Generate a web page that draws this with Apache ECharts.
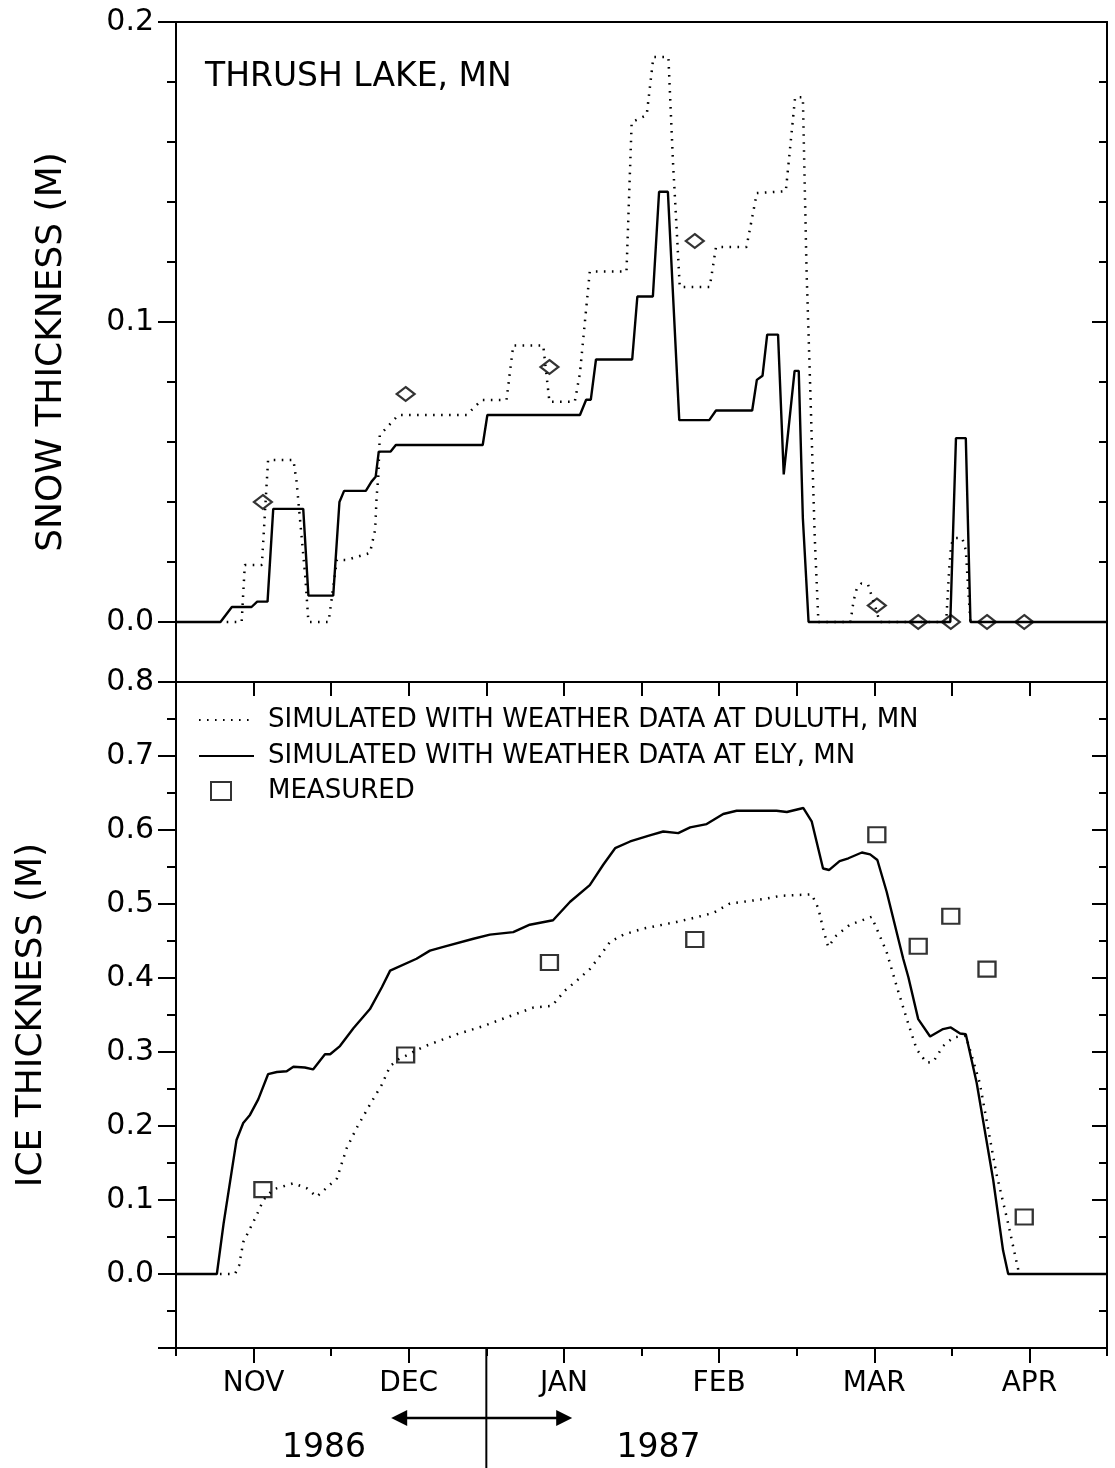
<!DOCTYPE html>
<html>
<head>
<meta charset="utf-8">
<script src="https://cdn.jsdelivr.net/npm/echarts@6/dist/echarts.min.js"></script>
<style>
  html, body { margin: 0; padding: 0; background: #fff; }
  #main { width: 1115px; height: 1468px; }
</style>
</head>
<body>
<div id="main"></div>
<script>
// x = days counted from 1 Oct 1986 (30-day months, as drawn on the axis)
var monthNames = ['NOV', 'DEC', 'JAN', 'FEB', 'MAR', 'APR'];
var monthDays = [30, 60, 90, 120, 150, 180];
var halfMonthDays = [15, 30, 45, 60, 75, 90, 105, 120, 135, 150, 165, 180, 195];

var snowTicks = [-0.02, 0, 0.02, 0.04, 0.06, 0.08, 0.1, 0.12, 0.14, 0.16, 0.18, 0.2];
var snowLabels = [0, 0.1, 0.2];
var iceTicks = [-0.1, -0.05, 0, 0.05, 0.1, 0.15, 0.2, 0.25, 0.3, 0.35, 0.4, 0.45, 0.5, 0.55, 0.6, 0.65, 0.7, 0.75, 0.8];
var iceLabels = [0, 0.1, 0.2, 0.3, 0.4, 0.5, 0.6, 0.7, 0.8];
var iceMajor = [-0.1, 0, 0.1, 0.2, 0.3, 0.4, 0.5, 0.6, 0.7, 0.8];

var yearLabels = ['1986', '1987'];
var yearLabelDays = [43.6, 108.3];
var yearSplitDay = 75;
var arrowDays = [56.6, 91.6];

var nameDuluth = 'SIMULATED WITH WEATHER DATA AT DULUTH, MN';
var nameEly = 'SIMULATED WITH WEATHER DATA AT ELY, MN';
var nameMeasured = 'MEASURED';

// snow thickness (m)
var snowEly = [[15,0],[23.6,0],[25.8,0.005],[29.6,0.005],[30.7,0.0068],[32.7,0.0068],[33.8,0.0377],[39.6,0.0377],
  [40.6,0.0088],[45.4,0.0088],[46.6,0.040],[47.5,0.0437],[51.7,0.0437],[52.8,0.0468],[53.6,0.0484],[54.2,0.0568],
  [56.5,0.0568],[57.5,0.059],[74.3,0.059],[75.2,0.069],[93.1,0.069],[94.3,0.0741],[95.2,0.0741],[96.2,0.0875],
  [103.2,0.0875],[104.2,0.1085],[107.2,0.1085],[108.4,0.1434],[110.1,0.1434],[112.3,0.0673],[118.1,0.0673],
  [119.4,0.0705],[126.4,0.0705],[127.3,0.0807],[128.4,0.0821],[129.3,0.0958],[131.4,0.0958],[132.5,0.0492],
  [134.6,0.0837],[135.4,0.0837],[136.2,0.0345],[137.3,0],[164.7,0],[165.8,0.0613],[167.7,0.0613],[168.6,0],[195,0]];

var snowDuluth = [[24.8,0],[27.7,0],[28.3,0.019],[31.6,0.019],[32.8,0.054],[37.7,0.054],[38.3,0.047],[39.2,0.030],
  [40.0,0.015],[40.6,0],[44.5,0],[46.1,0.0207],[48,0.0207],[52.5,0.023],[53.5,0.0307],[53.8,0.042],[54.1,0.048],
  [54.4,0.0623],[58.0,0.069],[71.2,0.069],[74.1,0.074],[78.9,0.074],[80.2,0.0922],[86.0,0.0922],[87.2,0.0734],
  [92.1,0.0734],[93.1,0.083],[95.0,0.1168],[102.1,0.1168],[103.1,0.1666],[106,0.169],[107.3,0.1883],[110.2,0.1883],
  [111.1,0.153],[112.4,0.1117],[118.2,0.1117],[119.4,0.125],[125.3,0.125],[127.3,0.143],[132.9,0.1436],
  [134.7,0.1749],[136.2,0.1749],[136.9,0.1175],[137.6,0.0792],[138.5,0.0282],[139.2,0],[145.4,0],[146.0,0.007],
  [146.6,0.011],[147.5,0.0128],[148.8,0.0125],[149.8,0.007],[150.5,0.0035],[151,0],[163.9,0],[164.5,0.018],
  [164.9,0.026],[165.6,0.028],[167.0,0.028],[167.7,0.024],[168.2,0.01],[168.6,0]];

// ice thickness (m)
var iceEly = [[15,0],[22.9,0],[24.2,0.068],[26.7,0.181],[28.0,0.204],[29.3,0.215],[30.9,0.236],[32.8,0.270],
  [34.5,0.273],[36.4,0.274],[37.7,0.280],[39.9,0.279],[41.5,0.2765],[43.8,0.297],[44.8,0.297],[46.7,0.308],
  [49.3,0.332],[52.5,0.358],[54.8,0.3875],[56.4,0.410],[61.5,0.426],[64.1,0.437],[66.7,0.442],[72.5,0.453],
  [75.7,0.4586],[80.2,0.462],[83.4,0.472],[87.9,0.478],[91.2,0.503],[95.0,0.5255],[97.6,0.553],[99.9,0.5754],
  [102.8,0.5845],[106.6,0.5927],[109.2,0.598],[112.1,0.5958],[114.4,0.6035],[117.6,0.608],[120.8,0.6216],
  [123.4,0.626],[131.1,0.626],[133.1,0.6243],[136.3,0.6297],[137.9,0.6117],[140.1,0.548],[141.3,0.546],
  [143.3,0.558],[145.0,0.5618],[147.6,0.5696],[149.2,0.567],[150.6,0.5595],[152.4,0.5166],[155.6,0.426],
  [156.6,0.401],[158.5,0.3444],[160.8,0.321],[163.3,0.331],[164.8,0.3332],[166.6,0.325],[167.7,0.324],
  [169.8,0.2584],[173.0,0.127],[174.9,0.032],[175.9,0],[195,0]];

var iceDuluth = [[23.5,0],[26.4,0],[27.2,0.0116],[28.0,0.043],[29.0,0.057],[30.6,0.0795],[31.9,0.1],[33.8,0.1144],
  [37.7,0.1226],[40.3,0.1158],[42.2,0.1044],[46.1,0.129],[48.0,0.170],[49.9,0.197],[52.5,0.229],[54.8,0.256],
  [56.4,0.281],[58.0,0.290],[59.6,0.2955],[62.8,0.307],[69.3,0.324],[74.4,0.335],[79.0,0.347],[84.1,0.360],
  [87.7,0.3625],[90.2,0.383],[92.5,0.3965],[95.0,0.412],[97.0,0.430],[98.9,0.4486],[101.5,0.4586],[105.3,0.4667],
  [111.8,0.4758],[115.0,0.481],[118.9,0.488],[122.1,0.5007],[128.5,0.5065],[131.8,0.511],[137.9,0.513],
  [139.2,0.494],[140.1,0.4667],[141.1,0.442],[142.7,0.4576],[145.3,0.472],[149.5,0.4826],[152.4,0.435],
  [154.3,0.3897],[156.3,0.3444],[158.2,0.3037],[160.1,0.2856],[161.4,0.2865],[163.3,0.308],[165.3,0.3196],
  [167.7,0.322],[170.4,0.258],[173.6,0.136],[175.9,0.068],[177.8,0.007],[178.0,0]];

// measurements (same sampling dates for snow and ice)
var measureDays = [31.8, 59.4, 87.2, 115.3, 150.5, 158.5, 164.8, 171.8, 179.0];
var snowMeasured = [0.040, 0.076, 0.085, 0.127, 0.0055, 0, 0, 0, 0];
var iceMeasured = [0.114, 0.296, 0.421, 0.452, 0.5935, 0.443, 0.4835, 0.412, 0.077];

function pairs(xs, ys) {
  return xs.map(function (x, i) { return [x, ys[i]]; });
}

var font = 'DejaVu Sans';
var black = '#000';
var dotted = { color: black, width: 2.5, type: [1.6, 6.4] };
var solid = { color: black, width: 2.4 };
var hollow = { color: 'rgba(255,255,255,0)', borderColor: black, borderWidth: 2.2 };

function xAxisBase(grid, pos) {
  return {
    type: 'value', gridIndex: grid, position: pos, min: 15, max: 195, interval: 15,
    axisLine: { show: true, onZero: false, lineStyle: { color: black, width: 2 } },
    axisTick: { show: false }, axisLabel: { show: false }, splitLine: { show: false }
  };
}
function yAxisBase(grid, pos, min, max, interval) {
  return {
    type: 'value', gridIndex: grid, position: pos, min: min, max: max, interval: interval,
    axisLine: { show: true, onZero: false, lineStyle: { color: black, width: 2 } },
    axisTick: { show: false }, axisLabel: { show: false }, splitLine: { show: false }
  };
}
function withTicks(axis, values, len, inside) {
  axis.axisTick = { show: true, customValues: values, length: len, inside: !!inside,
    lineStyle: { color: black, width: 2 } };
  return axis;
}

// snow panel axes
var xSnowBottom = xAxisBase(0, 'bottom');
var xSnowTop = xAxisBase(0, 'top');
var ySnowLeft = withTicks(yAxisBase(0, 'left', -0.02, 0.2, 0.02), snowTicks, 9);
ySnowLeft.axisLabel = { show: true, customValues: snowLabels, margin: 22, fontFamily: font, fontSize: 30,
  color: black, formatter: function (v) { return v.toFixed(1); } };
ySnowLeft.name = 'SNOW THICKNESS (M)';
ySnowLeft.nameLocation = 'middle';
ySnowLeft.nameGap = 106;
ySnowLeft.nameTextStyle = { fontFamily: font, fontSize: 36, color: black };
var ySnowLeftMajor = withTicks(yAxisBase(0, 'left', -0.02, 0.2, 0.02), snowLabels, 18);
var ySnowRight = withTicks(yAxisBase(0, 'right', -0.02, 0.2, 0.02), snowTicks, 8, true);
var ySnowRightMajor = withTicks(yAxisBase(0, 'right', -0.02, 0.2, 0.02), snowLabels, 15, true);

// ice panel axes
var xIceBottom = withTicks(xAxisBase(1, 'bottom'), halfMonthDays, 8);
xIceBottom.axisLabel = { show: true, customValues: monthDays, margin: 22, fontFamily: font, fontSize: 28,
  color: black, formatter: function (v) { return monthNames[monthDays.indexOf(v)]; } };
var xIceBottomMajor = withTicks(xAxisBase(1, 'bottom'), monthDays, 15);
var xIceTop = withTicks(xAxisBase(1, 'top'), halfMonthDays, 14, true);
var yIceLeft = withTicks(yAxisBase(1, 'left', -0.1, 0.8, 0.05), iceTicks, 9);
yIceLeft.axisLabel = { show: true, customValues: iceLabels, margin: 22, fontFamily: font, fontSize: 30,
  color: black, formatter: function (v) { return v.toFixed(1); } };
yIceLeft.name = 'ICE THICKNESS (M)';
yIceLeft.nameLocation = 'middle';
yIceLeft.nameGap = 126;
yIceLeft.nameTextStyle = { fontFamily: font, fontSize: 36, color: black };
var yIceLeftMajor = withTicks(yAxisBase(1, 'left', -0.1, 0.8, 0.05), iceMajor, 18);
var yIceRight = withTicks(yAxisBase(1, 'right', -0.1, 0.8, 0.05), iceTicks, 8, true);
var yIceRightMajor = withTicks(yAxisBase(1, 'right', -0.1, 0.8, 0.05), iceMajor, 15, true);

var legendText = { fontFamily: font, fontSize: 26, color: black };
var hideSymbol = { opacity: 0 };

var option = {
  backgroundColor: '#fff',
  animation: false,
  title: {
    text: 'THRUSH LAKE, MN', left: 200, top: 56,
    textStyle: { fontFamily: font, fontSize: 33, fontWeight: 'normal', color: black }
  },
  legend: [
    {
      orient: 'vertical', left: 193, top: 702, itemGap: 10, itemWidth: 55, itemHeight: 16,
      data: [{ name: nameDuluth, itemStyle: hideSymbol }, { name: nameEly, itemStyle: hideSymbol }],
      textStyle: Object.assign({ padding: [0, 0, 0, 9] }, legendText)
    },
    {
      orient: 'vertical', left: 205, top: 773, itemWidth: 20, itemHeight: 18,
      data: [nameMeasured],
      textStyle: Object.assign({ padding: [0, 0, 0, 32] }, legendText)
    }
  ],
  grid: [
    { left: 176, right: 8, top: 22, height: 660 },
    { left: 176, right: 8, top: 682, height: 666 }
  ],
  xAxis: [xSnowBottom, xSnowTop, xIceBottom, xIceBottomMajor, xIceTop],
  yAxis: [ySnowLeft, ySnowLeftMajor, ySnowRight, ySnowRightMajor, yIceLeft, yIceLeftMajor, yIceRight, yIceRightMajor],
  series: [
    { name: nameDuluth, type: 'line', xAxisIndex: 2, yAxisIndex: 4, data: iceDuluth, symbol: 'none',
      lineStyle: dotted, itemStyle: { color: black } },
    { name: nameEly, type: 'line', xAxisIndex: 2, yAxisIndex: 4, data: iceEly, symbol: 'none',
      lineStyle: solid, itemStyle: { color: black } },
    { name: nameMeasured, type: 'scatter', xAxisIndex: 2, yAxisIndex: 4, data: pairs(measureDays, iceMeasured),
      symbol: 'rect', symbolSize: [17, 15], itemStyle: hollow },
    { name: nameDuluth, type: 'line', xAxisIndex: 0, yAxisIndex: 0, data: snowDuluth, symbol: 'none',
      lineStyle: dotted, itemStyle: { color: black } },
    { name: nameEly, type: 'line', xAxisIndex: 0, yAxisIndex: 0, data: snowEly, symbol: 'none',
      lineStyle: solid, itemStyle: { color: black } },
    { name: nameMeasured, type: 'scatter', xAxisIndex: 0, yAxisIndex: 0, data: pairs(measureDays, snowMeasured),
      symbol: 'diamond', symbolSize: [18, 14], itemStyle: hollow }
  ]
};

var chart = echarts.init(document.getElementById('main'));
chart.setOption(option);

// year divider, arrow and year labels under the time axis
function pxAt(day) { return chart.convertToPixel({ gridIndex: 1 }, [day, -0.1]); }
var base = pxAt(yearSplitDay);
var axisY = base[1];
var arrowY = axisY + 70;
var aL = pxAt(arrowDays[0])[0];
var aR = pxAt(arrowDays[1])[0];
var graphics = [
  { type: 'line', shape: { x1: base[0], y1: axisY, x2: base[0], y2: 1468 },
    style: { stroke: black, lineWidth: 2 } },
  { type: 'line', shape: { x1: aL + 6, y1: arrowY, x2: aR - 6, y2: arrowY },
    style: { stroke: black, lineWidth: 2.5 } },
  { type: 'polygon', shape: { points: [[aL, arrowY], [aL + 16, arrowY - 8], [aL + 16, arrowY + 8]] },
    style: { fill: black } },
  { type: 'polygon', shape: { points: [[aR, arrowY], [aR - 16, arrowY - 8], [aR - 16, arrowY + 8]] },
    style: { fill: black } }
];
yearLabels.forEach(function (t, i) {
  graphics.push({ type: 'text', x: pxAt(yearLabelDays[i])[0], y: axisY + 100,
    style: { text: t, fontFamily: font, fontSize: 33, fill: black, align: 'center', verticalAlign: 'middle' } });
});
chart.setOption({ graphic: graphics });
</script>
</body>
</html>
